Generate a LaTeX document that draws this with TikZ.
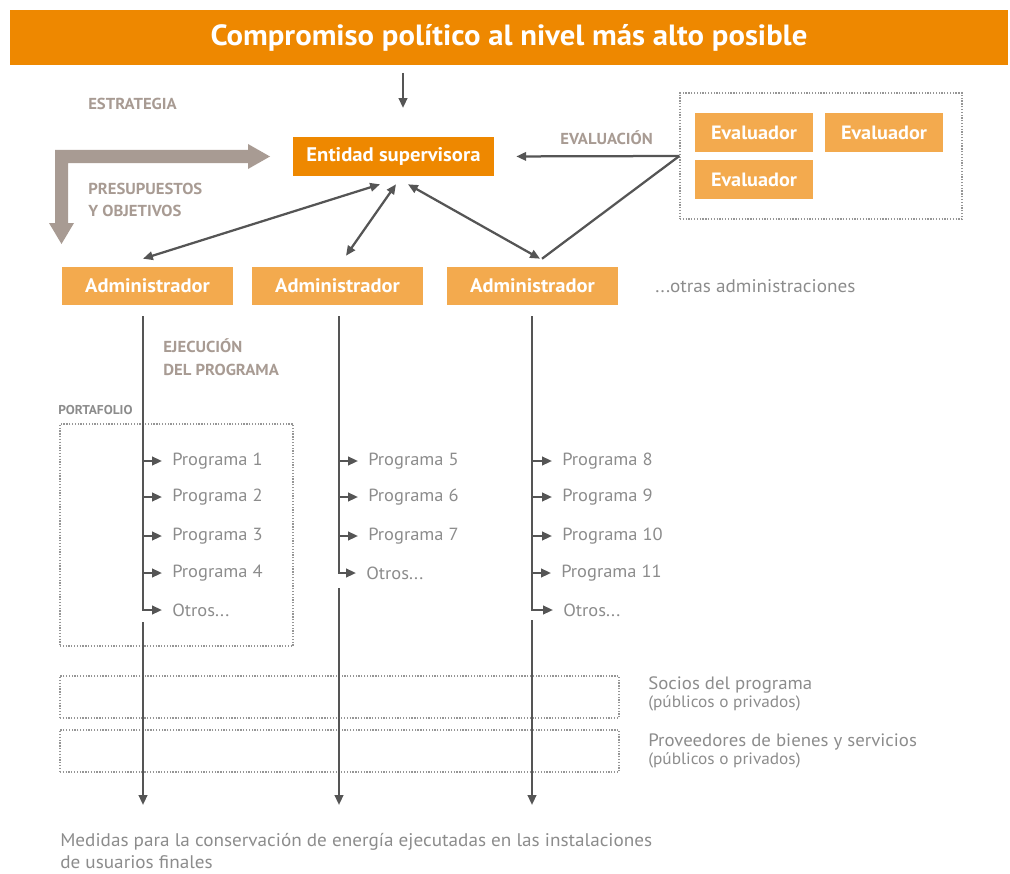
\documentclass[tikz,border=0pt]{standalone}
\usepackage{fontspec}
\setmainfont{PT Sans}[FakeStretch=1.05]
\usetikzlibrary{arrows.meta,calc,positioning}

\definecolor{naranja}{RGB}{238,136,0}
\definecolor{naranjaclaro}{RGB}{243,170,78}
\definecolor{grisetiq}{RGB}{168,155,147}
\definecolor{grisflecha}{RGB}{85,85,85}
\definecolor{gristexto}{RGB}{140,140,140}
\definecolor{grispunto}{RGB}{150,150,150}

\tikzset{
	titulo/.style={fill=naranja, text=white, minimum width=24.95cm, minimum height=1.375cm, font=\fontsize{20.8}{24}\selectfont\bfseries},
	entidadbox/.style={fill=naranja, text=white, minimum width=5.025cm, minimum height=0.975cm, font=\fontsize{14}{16}\selectfont\bfseries},
	adminbox/.style={fill=naranjaclaro, text=white, minimum width=4.275cm, minimum height=0.95cm, font=\fontsize{13.9}{16}\selectfont\bfseries},
	evalbox/.style={fill=naranjaclaro, text=white, minimum width=2.95cm, minimum height=0.975cm, font=\fontsize{13.7}{16}\selectfont\bfseries},
	marco/.style={draw=grispunto, line width=0.9pt, dash pattern=on 0.9pt off 1.1pt, minimum width=#1},
	etiqueta/.style={text=grisetiq, anchor=west, inner sep=0pt, align=left, font=\fontsize{11.3}{16}\selectfont\bfseries},
	programa/.style={text=gristexto, anchor=west, inner sep=0pt, inner xsep=0.25cm, font=\fontsize{12.5}{14}\selectfont},
	nota/.style={text=gristexto, anchor=west, inner sep=0pt, align=left, font=\fontsize{13}{15.6}\selectfont},
	flecha/.style={draw=grisflecha, line width=1.6pt, -{Triangle[length=7pt, width=6pt]}},
	doble/.style={draw=grisflecha, line width=1.6pt, {Triangle[length=7pt, width=6pt]}-{Triangle[length=7pt, width=6pt]}},
	linea/.style={draw=grisflecha, line width=1.6pt}
}

\begin{document}
\begin{tikzpicture}[x=0.025cm, y=-0.025cm]
	\useasboundingbox (0,0) rectangle (1010,873);

	% cabecera y entidad
	\node (titulo) [titulo] at (509,37.5) {Compromiso político al nivel más alto posible};
	\node (entidad) [entidadbox] at (393.5,156.5) {Entidad supervisora};
	\coordinate (t1) at (403,73);
	\coordinate (t2) at (403,108);
	\draw [flecha] (t1) to (t2);

	% etiquetas
	\node (estrategia) [etiqueta] at (88,104) {ESTRATEGIA};
	\node (presupuestos) [etiqueta] at (88,200) {PRESUPUESTOS\\Y OBJETIVOS};
	\node (evaluacion) [etiqueta] at (560,138) {EVALUACIÓN};
	\node (ejecucion) [etiqueta] at (163,357) {EJECUCIÓN\\DEL PROGRAMA};
	\node (portafolio) [etiqueta, text=gristexto, font=\fontsize{9.1}{10}\selectfont\bfseries] at (58,410) {PORTAFOLIO};

	% flecha ancha
	\fill [grisetiq] (55,150) -- (248,150) -- (248,144) -- (270,156.5) -- (248,169) -- (248,163)
		-- (68,163) -- (68,223) -- (74,223) -- (61.5,244) -- (49,223) -- (55,223) -- cycle;

	% evaluadores
	\node (marcoeval) [marco=7.05cm, minimum height=3.15cm] at (821,156) {};
	\node (ev1) [evalbox] at (754,132.5) {Evaluador};
	\node (ev2) [evalbox] at (884,132.5) {Evaluador};
	\node (ev3) [evalbox] at (754,179.5) {Evaluador};

	% administradores
	\node (adm1) [adminbox] at (147.5,286) {Administrador};
	\node (adm2) [adminbox] at (337.5,286) {Administrador};
	\node (adm3) [adminbox] at (532.5,286) {Administrador};
	\node (otras) [nota] at (655,286) {...otras administraciones};

	\draw [flecha, shorten >=22*0.025cm] (marcoeval.west) to (entidad.east);
	\draw [linea] (marcoeval.west) to ($(adm3.north)+(9.5,-8)$);
	\draw [doble] ($(entidad.south)+(-13.5,8)$) to ($(adm1.north)+(-4.5,-8)$);
	\draw [doble] ($(entidad.south)+(2.5,8)$) to ($(adm2.north)+(8.5,-11)$);
	\draw [doble] ($(entidad.south)+(14.5,8)$) to ($(adm3.north)+(7.5,-8)$);

	% marcos
	\node (marcoport) [marco=5.825cm, minimum height=5.55cm] at (176.5,535) {};
	\node (marcosocios) [marco=13.975cm, minimum height=1.05cm] at (339.5,697) {};
	\node (marcoprov) [marco=13.975cm, minimum height=1.05cm] at (339.5,751) {};

	% programas
	\node (p1) [programa] at (162,461) {Programa 1};
	\node (p2) [programa] at (162,497) {Programa 2};
	\node (p3) [programa] at (162,536) {Programa 3};
	\node (p4) [programa] at (162,573) {Programa 4};
	\node (o1) [programa] at (162,610) {Otros...};
	\node (p5) [programa] at (358,461) {Programa 5};
	\node (p6) [programa] at (358,497) {Programa 6};
	\node (p7) [programa] at (358,536) {Programa 7};
	\node (o2) [programa] at (356,573) {Otros...};
	\node (p8) [programa] at (552,461) {Programa 8};
	\node (p9) [programa] at (552,497) {Programa 9};
	\node (p10) [programa] at (552,536) {Programa 10};
	\node (p11) [programa] at (551,573) {Programa 11};
	\node (o3) [programa] at (553,610) {Otros...};

	\coordinate (c1) at ($(adm1.south)+(-4.5,11)$);
	\coordinate (c2) at ($(adm2.south)+(1.5,11)$);
	\coordinate (c3) at ($(adm3.south)+(-0.5,11)$);
	\draw [flecha] (c1) to (c1 |- o1.west) to (o1.west);
	\draw [flecha] (c2) to (c2 |- o2.west) to (o2.west);
	\draw [flecha] (c3) to (c3 |- o3.west) to (o3.west);
	\foreach \p in {p1,p2,p3,p4} \draw [flecha] (c1 |- \p.west) to (\p.west);
	\foreach \p in {p5,p6,p7} \draw [flecha] (c2 |- \p.west) to (\p.west);
	\foreach \p in {p8,p9,p10,p11} \draw [flecha] (c3 |- \p.west) to (\p.west);

	% hacia los usuarios finales
	\coordinate (d1) at (143,622);
	\coordinate (d2) at (339,588);
	\coordinate (d3) at (532,620);
	\draw [flecha] (d1) to (d1 |- 0,805);
	\draw [flecha] (d2) to (d2 |- 0,805);
	\draw [flecha] (d3) to (d3 |- 0,805);

	\node (socios) [nota, font=\fontsize{12.75}{14}\selectfont] at (648,694) {Socios del programa\\[-1pt]{\fontsize{11.7}{12.5}\selectfont (públicos o privados)}};
	\node (proveedores) [nota, font=\fontsize{12.75}{14}\selectfont] at (648,751) {Proveedores de bienes y servicios\\[-1pt]{\fontsize{11.7}{12.5}\selectfont (públicos o privados)}};
	\node (medidas) [nota] at (60,851) {Medidas para la conservación de energía ejecutadas en las instalaciones\\de usuarios finales};
\end{tikzpicture}
\end{document}
